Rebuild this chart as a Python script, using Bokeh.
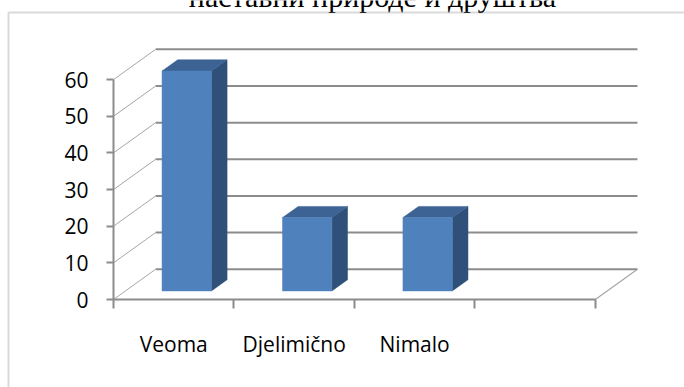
from bokeh.plotting import figure
from bokeh.models import FixedTicker, Label, Range1d, BoxAnnotation
from bokeh.embed import file_html
from bokeh.resources import INLINE

# --- data ---------------------------------------------------------------
title_text = "наставни природе и друштва"
categories = ["Veoma", "Djelimično", "Nimalo"]
values = [60, 20, 20]
y_ticks = [0, 10, 20, 30, 40, 50, 60]
n_slots = 4          # category slots on the floor (last one stays empty)
y_max = 60

# --- 3-D projection constants (data units) --------------------------------
DX, DY = 0.35, 8.26          # full depth of the box (back wall offset)
FX, FY = 0.108, 2.34         # bar front face offset from the floor edge
BX, BY = 0.13, 3.06          # bar depth
HALF = 0.205                 # half width of a bar

GRID = "#8c8c8c"
WALL = "#a6a6a6"
FRONT = "#4f81bd"
TOP = "#3c6393"
SIDE = "#2f5079"
FONT = "Open Sans"

W, H = 684, 387
ORIGIN_X, ORIGIN_Y = 113, 299      # page position of the front-left floor corner
PX_X, PX_Y = 120.45, 3.665         # pixels per category slot / per value unit

# the frame covers the whole page; axes sit at fixed positions inside it
p = figure(width=W, height=H, output_backend="svg", toolbar_location=None,
           x_range=Range1d(-ORIGIN_X / PX_X, (W - ORIGIN_X) / PX_X),
           y_range=Range1d(-(H - ORIGIN_Y) / PX_Y, ORIGIN_Y / PX_Y),
           min_border=0)
p.outline_line_color = None
p.xgrid.visible = False
p.ygrid.visible = False
p.background_fill_color = "white"
p.border_fill_color = "white"

# back wall gridlines
gx0 = [DX] * len(y_ticks)
gx1 = [n_slots + DX] * len(y_ticks)
gy = [v + DY for v in y_ticks]
p.segment(x0=gx0, y0=gy, x1=gx1, y1=gy, line_color=GRID, line_width=2)

# left wall diagonals
p.segment(x0=[0] * len(y_ticks), y0=y_ticks, x1=[DX] * len(y_ticks), y1=gy,
          line_color=WALL, line_width=1)

# floor right edge
p.segment(x0=[n_slots], y0=[0], x1=[n_slots + DX], y1=[DY],
          line_color=WALL, line_width=1.2)

# bars: front face, top face and side face
lefts = [i + 0.5 - HALF + FX for i in range(len(values))]
rights = [i + 0.5 + HALF + FX for i in range(len(values))]
bottoms = [FY] * len(values)
tops = [v + FY for v in values]

top_xs, top_ys, side_xs, side_ys = [], [], [], []
for L, R, B, T in zip(lefts, rights, bottoms, tops):
    top_xs.append([L, R, R + BX, L + BX])
    top_ys.append([T, T, T + BY, T + BY])
    side_xs.append([R, R + BX, R + BX, R])
    side_ys.append([B, B + BY, T + BY, T])

p.patches(xs=side_xs, ys=side_ys, fill_color=SIDE, line_color=SIDE, line_width=0.5)
p.patches(xs=top_xs, ys=top_ys, fill_color=TOP, line_color=TOP, line_width=0.5)
p.quad(left=lefts, right=rights, bottom=bottoms, top=tops,
       fill_color=FRONT, line_color=FRONT, line_width=0.5)

# value axis
ya = p.yaxis[0]
ya.fixed_location = 0
ya.ticker = FixedTicker(ticks=y_ticks)
ya.bounds = (0, y_max)
ya.axis_line_color = GRID
ya.axis_line_width = 2
ya.major_tick_line_color = GRID
ya.major_tick_line_width = 2
ya.major_tick_out = 7
ya.major_tick_in = 0
ya.minor_tick_line_color = None
ya.major_label_standoff = 18
ya.major_label_text_font = FONT
ya.major_label_text_font_size = "21px"
ya.major_label_text_color = "black"

# category axis: ticks on slot boundaries, labels in slot centres
xa = p.xaxis[0]
xa.fixed_location = 0
centres = [i + 0.5 for i in range(len(categories))]
xa.ticker = FixedTicker(ticks=centres, minor_ticks=list(range(n_slots + 1)))
xa.major_label_overrides = {c: name for c, name in zip(centres, categories)}
xa.bounds = (0, n_slots)
xa.axis_line_color = GRID
xa.axis_line_width = 2
xa.major_tick_line_color = None
xa.major_tick_out = 0
xa.major_tick_in = 0
xa.minor_tick_line_color = GRID
xa.minor_tick_line_width = 2
xa.minor_tick_out = 9
xa.minor_tick_in = 0
xa.major_label_standoff = 21
xa.major_label_text_font = FONT
xa.major_label_text_font_size = "21px"
xa.major_label_text_color = "black"

# chart title (its upper part runs past the top of the page)
p.add_layout(Label(x=372, y=H + 4.5, x_units="screen", y_units="screen",
                   text=title_text, text_align="center",
                   text_baseline="alphabetic", text_font="Liberation Serif",
                   text_font_size="30px", text_color="black"))

# chart area border (left and top edges; the rest runs off the page)
p.add_layout(BoxAnnotation(left=8, right=W + 20, top=H - 12, bottom=-20,
                           left_units="screen", right_units="screen",
                           top_units="screen", bottom_units="screen",
                           fill_color=None, line_color="#868686", line_width=2))

open("out.html", "w").write(file_html(p, INLINE))
